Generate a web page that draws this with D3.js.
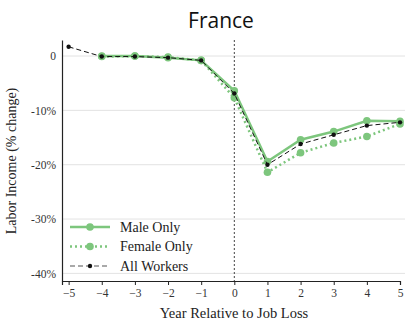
<!DOCTYPE html>
<html>
<head>
<meta charset="utf-8">
<script src="https://cdn.jsdelivr.net/npm/d3@7"></script>
<style>
  body { margin: 0; background: #fff; }
  .tick text { font-size: 11.5px; fill: #333; }
</style>
</head>
<body>
<div id="chart"></div>
<script>
// data
const years = [-5, -4, -3, -2, -1, 0, 1, 2, 3, 4, 5];
const maleOnly = [null, 0.0, 0.0, -0.3, -0.8, -6.4, -19.4, -15.4, -13.9, -11.9, -12.0];
const femaleOnly = [null, -0.1, 0.0, -0.2, -0.8, -7.7, -21.4, -17.8, -16.0, -14.8, -12.5];
const allWorkers = [1.7, -0.1, -0.1, -0.3, -0.8, -6.9, -20.0, -16.2, -14.5, -12.8, -12.2];
const yTicks = [0, -10, -20, -30, -40];
const yTickLabels = ["0", "-10%", "-20%", "-30%", "-40%"];

const width = 405, height = 323;
const margin = { top: 40, right: 5, bottom: 42, left: 62 };
const green = "#7dc67d";
const serif = "Liberation Serif";

const svg = d3.select("#chart")
    .append("svg")
    .attr("width", width)
    .attr("height", height);

const x = d3.scaleLinear()
    .domain([-5.2, 5])
    .range([margin.left, width - margin.right]);

const y = d3.scaleLinear()
    .domain([-41.4, 2.95])
    .range([height - margin.bottom, margin.top]);

// title
svg.append("text")
    .attr("x", 221).attr("y", 28)
    .attr("text-anchor", "middle")
    .attr("font-family", "Open Sans")
    .attr("font-size", 21)
    .attr("fill", "#111")
    .text("France");

// gridlines
svg.append("g")
    .selectAll("line")
    .data(yTicks)
    .enter().append("line")
    .attr("x1", margin.left).attr("x2", width)
    .attr("y1", d => y(d)).attr("y2", d => y(d))
    .style("stroke", "#e3e3e3")
    .style("stroke-width", 1);

// axes
const yAxis = svg.append("g")
    .attr("transform", `translate(${margin.left},0)`)
    .call(d3.axisLeft(y).tickValues(yTicks).tickFormat((d, i) => yTickLabels[i]).tickSize(0).tickPadding(6))
    .attr("font-family", serif);
yAxis.select(".domain").style("stroke", "#222").style("stroke-width", 1.2);

const xAxis = svg.append("g")
    .attr("transform", `translate(0,${height - margin.bottom})`)
    .call(d3.axisBottom(x).tickValues(years).tickFormat(d3.format("d")).tickSize(4).tickPadding(4))
    .attr("font-family", serif);
xAxis.select(".domain").style("stroke", "#222").style("stroke-width", 1.2);
xAxis.selectAll(".tick line").style("stroke", "#222");

// vertical line at job loss
svg.append("line")
    .attr("x1", x(0)).attr("x2", x(0))
    .attr("y1", margin.top).attr("y2", height - margin.bottom)
    .style("stroke", "#444")
    .style("stroke-width", 1)
    .style("stroke-dasharray", "2,2");

const series = [
    { name: "Male Only", values: maleOnly, color: green, width: 2.5, dash: null, r: 3.8 },
    { name: "Female Only", values: femaleOnly, color: green, width: 2.5, dash: "2,3", r: 3.8 },
    { name: "All Workers", values: allWorkers, color: "#111", width: 1, dash: "5,3", r: 2.2 }
];

const line = d3.line()
    .defined(d => d.v !== null)
    .x(d => x(d.year))
    .y(d => y(d.v));

series.forEach(s => {
    const pts = years.map((yr, i) => ({ year: yr, v: s.values[i] }));
    svg.append("path")
        .datum(pts)
        .attr("d", line)
        .style("fill", "none")
        .style("stroke", s.color)
        .style("stroke-width", s.width)
        .style("stroke-dasharray", s.dash);
    svg.append("g")
        .selectAll("circle")
        .data(pts.filter(d => d.v !== null))
        .enter().append("circle")
        .attr("cx", d => x(d.year))
        .attr("cy", d => y(d.v))
        .attr("r", s.r)
        .style("fill", s.color);
});

// legend
const legend = svg.append("g").attr("transform", "translate(70,227)");
series.forEach((s, i) => {
    const g = legend.append("g").attr("transform", `translate(0,${i * 19.5})`);
    g.append("line")
        .attr("x1", 0).attr("x2", 40)
        .style("stroke", i === 2 ? "#555" : s.color)
        .style("stroke-width", s.width === 1 ? 1.2 : s.width)
        .style("stroke-dasharray", s.dash);
    g.append("circle").attr("cx", 20).attr("r", s.r).style("fill", s.color);
    g.append("text")
        .attr("x", 50).attr("y", 4.5)
        .attr("font-family", serif)
        .attr("font-size", 14)
        .attr("fill", "#222")
        .text(s.name);
});

// axis titles
svg.append("text")
    .attr("x", 234).attr("y", 318)
    .attr("text-anchor", "middle")
    .attr("font-family", serif)
    .attr("font-size", 14.5)
    .attr("fill", "#222")
    .text("Year Relative to Job Loss");

svg.append("text")
    .attr("transform", "translate(16,161) rotate(-90)")
    .attr("text-anchor", "middle")
    .attr("font-family", serif)
    .attr("font-size", 14)
    .attr("fill", "#222")
    .text("Labor Income (% change)");
</script>
</body>
</html>
